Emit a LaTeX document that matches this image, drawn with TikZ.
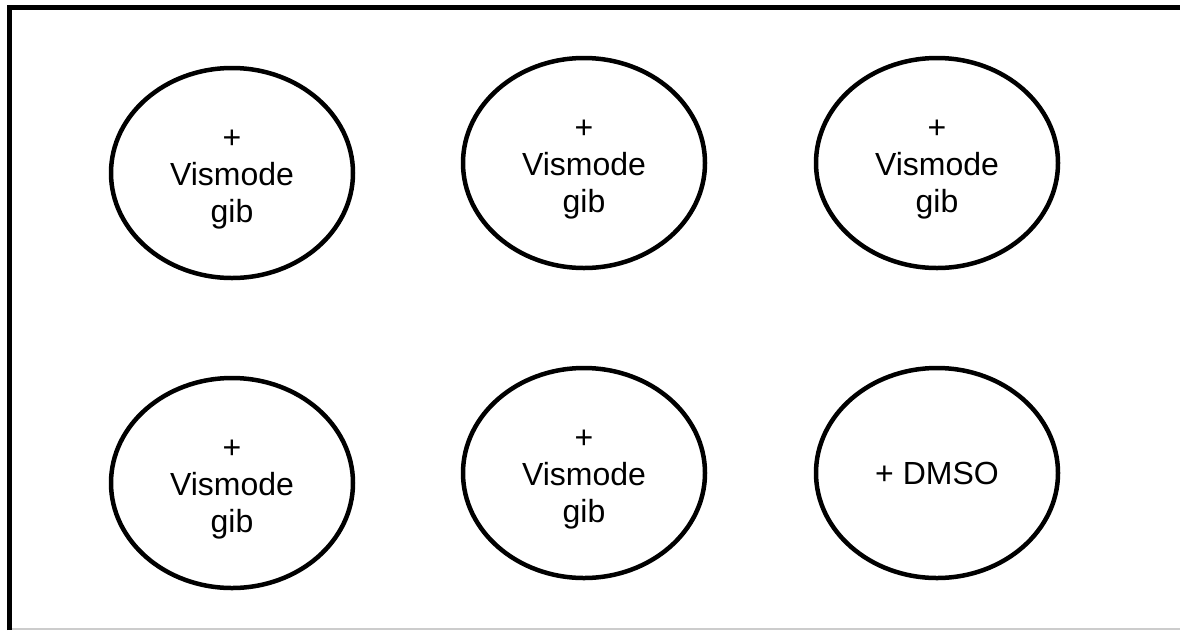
\documentclass[tikz,border=0pt]{standalone}
\usepackage{fontspec}
\setmainfont{Liberation Sans}
\usetikzlibrary{shapes.geometric}
% stacked, centred lines set slightly low inside a well
\newcommand\wellstack[1]{\raisebox{0pt}[\dimexpr\height+10pt\relax]{\begin{tabular}{@{}c@{}}#1\end{tabular}}}
\begin{document}
\begin{tikzpicture}[x=1pt,y=-1pt,
  well/.style={ellipse, draw=black, line width=4.5pt, inner sep=0pt,
    minimum width=242pt, minimum height=210pt,
    font=\fontsize{32}{37}\selectfont}]
  \useasboundingbox (0,0) rectangle (1180,630);
  % frame edges
  \draw[line width=5pt] (9.5,630) -- (9.5,7.5) -- (1180,7.5);
  \draw[line width=1.5pt, color=black!20] (12,629) -- (1180,629);
  % top row
  \node[well] (w1) at (232,173) {\wellstack{+\\Vismode\\gib}};
  \node[well] (w2) at (584,163) {\wellstack{+\\Vismode\\gib}};
  \node[well] (w3) at (937,163) {\wellstack{+\\Vismode\\gib}};
  % bottom row
  \node[well] (w4) at (232,483) {\wellstack{+\\Vismode\\gib}};
  \node[well] (w5) at (584,473) {\wellstack{+\\Vismode\\gib}};
  \node[well] (w6) at (937,473) {+ DMSO};
\end{tikzpicture}
\end{document}
